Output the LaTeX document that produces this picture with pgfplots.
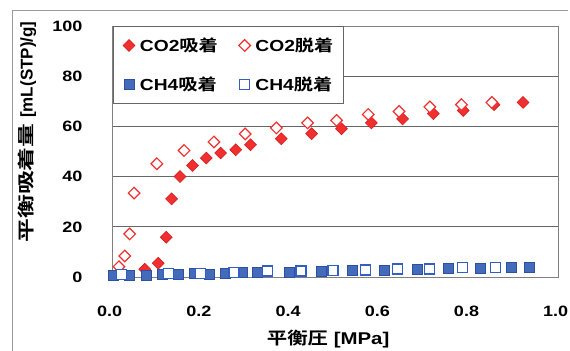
\documentclass[border=0pt]{standalone}
\usepackage{fontspec}
\usepackage{pgfplots}
\pgfplotsset{compat=1.18}
\setmainfont{Liberation Sans}[FakeStretch=1.2]
\newfontfamily\jp{Noto Sans CJK JP}[FakeStretch=1.2, BoldFont={Noto Sans CJK JP Bold}]
\newfontfamily\jpwide{Noto Sans CJK JP}[FakeStretch=1.4, BoldFont={Noto Sans CJK JP Bold}]
\newfontfamily\lat{Liberation Sans}

\definecolor{cofill}{RGB}{240,48,48}
\definecolor{codraw}{RGB}{214,28,28}
\definecolor{chfill}{RGB}{68,106,186}
\definecolor{chdraw}{RGB}{45,80,160}
\definecolor{chopen}{RGB}{48,96,196}

% CO2 adsorption / desorption, CH4 adsorption / desorption: pressure [MPa], uptake [mL(STP)/g]
\pgfplotstableread{
p v
0.013 1.2
0.072 3.1
0.102 5.5
0.120 15.9
0.132 31.2
0.151 40.1
0.179 44.5
0.210 47.5
0.242 49.5
0.276 50.8
0.309 52.8
0.378 55.2
0.446 57.2
0.513 59.2
0.580 61.5
0.650 63.1
0.719 65.2
0.786 66.5
0.855 68.8
0.920 69.7
}\coads
\pgfplotstableread{
p v
0.014 4.1
0.027 8.4
0.038 17.2
0.048 33.5
0.099 45.2
0.160 50.5
0.227 53.9
0.297 57.1
0.367 59.5
0.437 61.5
0.502 62.5
0.573 64.9
0.642 66.1
0.711 67.9
0.782 68.8
0.850 69.7
}\codes
\pgfplotstableread{
p v
0.002 0.5
0.037 0.5
0.076 0.5
0.111 1.1
0.146 1.1
0.184 1.5
0.217 1.2
0.252 1.5
0.291 1.7
0.324 1.7
0.397 1.9
0.468 2.4
0.537 2.5
0.608 2.8
0.682 3.1
0.752 3.5
0.824 3.5
0.894 3.7
0.933 3.7
}\chads
\pgfplotstableread{
p v
0.020 0.9
0.126 1.5
0.197 1.5
0.272 1.7
0.347 2.4
0.422 2.4
0.494 2.6
0.566 2.8
0.638 3.2
0.711 3.2
0.784 3.7
0.859 3.7
}\chdes

\begin{document}
\begin{tikzpicture}
\path[use as bounding box] (0,0) rectangle (570bp,351bp);
% chart frame
\draw[black!40, line width=0.8bp] (12bp,0bp) -- (12bp,341bp) -- (568bp,341bp);
\begin{axis}[
  at={(112.7bp,74bp)}, anchor=south west,
  scale only axis, width=446bp, height=250.5bp,
  xmin=0, xmax=1, ymin=0, ymax=100,
  xtick={0,0.2,0.4,0.6,0.8,1.0},
  ytick={0,20,40,60,80,100},
  ymajorgrids,
  grid style={black!60, line width=0.8bp},
  axis line style={black!50, line width=0.8bp},
  major tick length=0pt,
  clip=false,
  /pgf/number format/assume math mode=true,
  tick label style={font=\bfseries\fontsize{15bp}{18bp}\selectfont},
  xticklabel style={/pgf/number format/.cd, fixed, fixed zerofill, precision=1, /tikz/.cd,
    inner sep=0pt, yshift=-28.5bp, xshift=-3bp},
  yticklabel style={inner sep=0pt, xshift=-30bp},
  xlabel={{\jp 平衡圧} [MPa]},
  ylabel={{\jpwide 平衡吸着量} {\lat [mL(STP)/g]}},
  label style={font=\bfseries\fontsize{17bp}{20bp}\selectfont},
  xlabel style={at={(axis description cs:0.483,-0.2475)}, anchor=center},
  ylabel style={at={(axis description cs:-0.192,0.579)}, anchor=center},
  legend columns=2,
  legend cell align=left,
  legend image code/.code={\draw[#1] plot coordinates {(0bp,0bp)};},
  legend style={at={(0,1)}, anchor=north west, draw=black!60, line width=0.8bp, fill=white,
    inner xsep=10bp, inner ysep=11bp,
    font=\bfseries\fontsize{16bp}{19bp}\selectfont,
    row sep=24bp, column sep=5bp, nodes={inner sep=0pt, anchor=west},
    /tikz/every even column/.append style={column sep=21bp}},
]
\addplot[only marks, mark=square*, mark size=4.2bp,
  mark options={rotate=45, fill=cofill, draw=codraw, line width=0.6bp}]
  table[x=p, y=v] {\coads};
\addlegendentry{CO2{\jp 吸着}}
\addplot[only marks, mark=square*, mark size=4.1bp,
  mark options={rotate=45, fill=white, draw=cofill, line width=1.2bp}]
  table[x=p, y=v] {\codes};
\addlegendentry{CO2{\jp 脱着}}
\addplot[only marks, mark=square*, mark size=5bp,
  mark options={fill=chfill, draw=chdraw, line width=0.6bp}]
  table[x=p, y=v] {\chads};
\addlegendentry{CH4{\jp 吸着}}
\addplot[only marks, mark=square*, mark size=5bp,
  mark options={fill=white, draw=chopen, line width=1.2bp}]
  table[x=p, y=v] {\chdes};
\addlegendentry{CH4{\jp 脱着}}
\end{axis}
\end{tikzpicture}
\end{document}
